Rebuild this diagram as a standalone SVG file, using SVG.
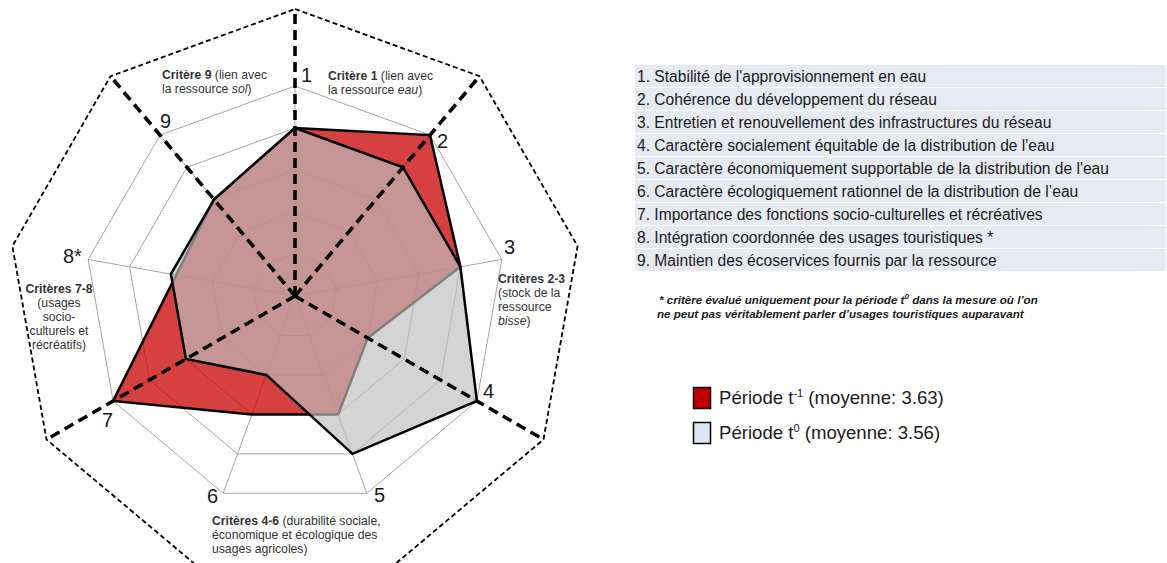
<svg xmlns="http://www.w3.org/2000/svg" width="1167" height="563" viewBox="0 0 1167 563">
<style>
.grid{fill:none;stroke:#A6A6A6;stroke-width:1}
.spoke{stroke:#A6A6A6;stroke-width:1}
.outer{fill:none;stroke:#000;stroke-width:1.8;stroke-dasharray:5 3}
.thick{stroke:#000;stroke-width:3.6;stroke-dasharray:10 6;fill:none}
.num{font-family:"Liberation Sans",Arial,sans-serif;font-size:20px;fill:#1a1a1a}
.sec{font-family:"Liberation Sans",Arial,sans-serif;font-size:12.2px;fill:#333}
.b{font-weight:bold}
.i{font-style:italic}
.row{fill:#E6EAF2}
.lst{font-family:"Liberation Sans",Arial,sans-serif;font-size:15.6px;fill:#1a1a1a}
.note{font-family:"Liberation Sans",Arial,sans-serif;font-size:11.6px;font-weight:bold;font-style:italic;fill:#1a1a1a}
.leg{font-family:"Liberation Sans",Arial,sans-serif;font-size:18.6px;fill:#1a1a1a}
</style>
<rect width="1167" height="563" fill="#fff"/>
<g id="chart-grid">
<polygon class="grid" points="295,86 430,135.1 501.8,259.5 476.9,401 366.8,493.3 223.2,493.3 113.1,401 88.2,259.5 160,135.1"/>
<polygon class="grid" points="295,128 403,167.3 460.4,266.8 440.5,380 352.5,453.9 237.5,453.9 149.5,380 129.6,266.8 187,167.3"/>
<polygon class="grid" points="295,170 376,199.5 419.1,274.1 404.1,359 338.1,414.4 251.9,414.4 185.9,359 170.9,274.1 214,199.5"/>
<polygon class="grid" points="295,212 349,231.7 377.7,281.4 367.7,338 323.7,374.9 266.3,374.9 222.3,338 212.3,281.4 241,231.7"/>
<polygon class="grid" points="295,254 322,263.8 336.4,288.7 331.4,317 309.4,335.5 280.6,335.5 258.6,317 253.6,288.7 268,263.8"/>
<line class="spoke" x1="295" y1="296" x2="295" y2="86"/>
<line class="spoke" x1="295" y1="296" x2="430" y2="135.1"/>
<line class="spoke" x1="295" y1="296" x2="501.8" y2="259.5"/>
<line class="spoke" x1="295" y1="296" x2="476.9" y2="401"/>
<line class="spoke" x1="295" y1="296" x2="366.8" y2="493.3"/>
<line class="spoke" x1="295" y1="296" x2="223.2" y2="493.3"/>
<line class="spoke" x1="295" y1="296" x2="113.1" y2="401"/>
<line class="spoke" x1="295" y1="296" x2="88.2" y2="259.5"/>
<line class="spoke" x1="295" y1="296" x2="160" y2="135.1"/>
</g>
<g id="outer-frame">
<polygon class="outer" points="295,9 479.5,76.2 577.6,246.2 543.5,439.5 393.2,565.7 196.8,565.7 46.5,439.5 12.4,246.2 110.5,76.2"/>
</g>
<g id="series-t-1">
<polygon points="295,128 430,135.1 460.4,266.8 367.7,338 338.1,414.4 251.9,414.4 113.1,401 214,199.5" fill="#C80000" fill-opacity="0.75" stroke="#000" stroke-width="2.5" stroke-linejoin="miter"/>
</g>
<g id="series-t0">
<polygon points="295,128 403,167.3 460.4,266.8 476.9,401 352.5,453.9 266.3,374.9 185.9,359 170.9,274.1 214,199.5" fill="#BFBFBF" fill-opacity="0.67" stroke="#000" stroke-width="2.5"/>
</g>
<g id="connectors">
<line class="thick" x1="295" y1="296" x2="295" y2="9"/>
<line class="thick" x1="295" y1="296" x2="479.5" y2="76.2"/>
<line class="thick" x1="295" y1="296" x2="543.5" y2="439.5"/>
<line class="thick" x1="295" y1="296" x2="46.5" y2="439.5"/>
<line class="thick" x1="295" y1="296" x2="110.5" y2="76.2"/>
</g>
<g id="axis-labels">
<text class="num" x="301" y="82">1</text>
<text class="num" x="437" y="148">2</text>
<text class="num" x="504" y="254">3</text>
<text class="num" x="483" y="398">4</text>
<text class="num" x="374" y="502">5</text>
<text class="num" x="207" y="503">6</text>
<text class="num" x="102" y="427">7</text>
<text class="num" x="63" y="263">8*</text>
<text class="num" x="160" y="128">9</text>
</g>
<g id="sector-9">
<text class="sec" x="162" y="79"><tspan class="b">Critère 9</tspan> (lien avec</text>
<text class="sec" x="162" y="93">la ressource <tspan class="i">sol</tspan>)</text>
</g>
<g id="sector-1">
<text class="sec" x="328" y="80"><tspan class="b">Critère 1</tspan> (lien avec</text>
<text class="sec" x="328" y="94">la ressource <tspan class="i">eau</tspan>)</text>
</g>
<g id="sector-2-3">
<text class="sec" x="498" y="283"><tspan class="b">Critères 2-3</tspan></text>
<text class="sec" x="498" y="297">(stock de la</text>
<text class="sec" x="498" y="311">ressource</text>
<text class="sec" x="498" y="325"><tspan class="i">bisse</tspan>)</text>
</g>
<g id="sector-7-8" text-anchor="middle">
<text class="sec" x="59" y="293"><tspan class="b">Critères 7-8</tspan></text>
<text class="sec" x="59" y="307">(usages</text>
<text class="sec" x="59" y="321">socio-</text>
<text class="sec" x="59" y="335">culturels et</text>
<text class="sec" x="59" y="349">récréatifs)</text>
</g>
<g id="sector-4-6">
<text class="sec" x="212" y="525"><tspan class="b">Critères 4-6</tspan> (durabilité sociale,</text>
<text class="sec" x="212" y="539">économique et écologique des</text>
<text class="sec" x="212" y="553">usages agricoles)</text>
</g>
<g id="criteria-list">
<rect class="row" x="635" y="65" width="531" height="22"/>
<rect class="row" x="635" y="88" width="531" height="22"/>
<rect class="row" x="635" y="111" width="531" height="22"/>
<rect class="row" x="635" y="134" width="531" height="22"/>
<rect class="row" x="635" y="157" width="531" height="22"/>
<rect class="row" x="635" y="180" width="531" height="22"/>
<rect class="row" x="635" y="203" width="531" height="22"/>
<rect class="row" x="635" y="226" width="531" height="22"/>
<rect class="row" x="635" y="249" width="531" height="22"/>
<text class="lst" x="637" y="82">1. Stabilité de l'approvisionnement en eau</text>
<text class="lst" x="637" y="105">2. Cohérence du développement du réseau</text>
<text class="lst" x="637" y="128">3. Entretien et renouvellement des infrastructures du réseau</text>
<text class="lst" x="637" y="151">4. Caractère socialement équitable de la distribution de l'eau</text>
<text class="lst" x="637" y="174">5. Caractère économiquement supportable de la distribution de l'eau</text>
<text class="lst" x="637" y="197">6. Caractère écologiquement rationnel de la distribution de l’eau</text>
<text class="lst" x="637" y="220">7. Importance des fonctions socio-culturelles et récréatives</text>
<text class="lst" x="637" y="243">8. Intégration coordonnée des usages touristiques *</text>
<text class="lst" x="637" y="266">9. Maintien des écoservices fournis par la ressource</text>
</g>
<g id="footnote">
<text class="note" x="659" y="304">* critère évalué uniquement pour la période t<tspan font-size="8" dy="-5">0</tspan><tspan dy="5"> dans la mesure où l’on</tspan></text>
<text class="note" x="657" y="318">ne peut pas véritablement parler d’usages touristiques auparavant</text>
</g>
<g id="legend">
<rect x="693.5" y="387.5" width="17" height="21" fill="#C00000" stroke="#000" stroke-width="1.5"/>
<text class="leg" x="719" y="404">Période t<tspan font-size="11" dy="-7">-1</tspan><tspan dy="7"> (moyenne: 3.63)</tspan></text>
<rect x="693.5" y="422.5" width="17" height="21" fill="#DCE6F2" stroke="#000" stroke-width="1.5"/>
<text class="leg" x="719" y="439">Période t<tspan font-size="11" dy="-7">0</tspan><tspan dy="7"> (moyenne: 3.56)</tspan></text>
</g>
</svg>
